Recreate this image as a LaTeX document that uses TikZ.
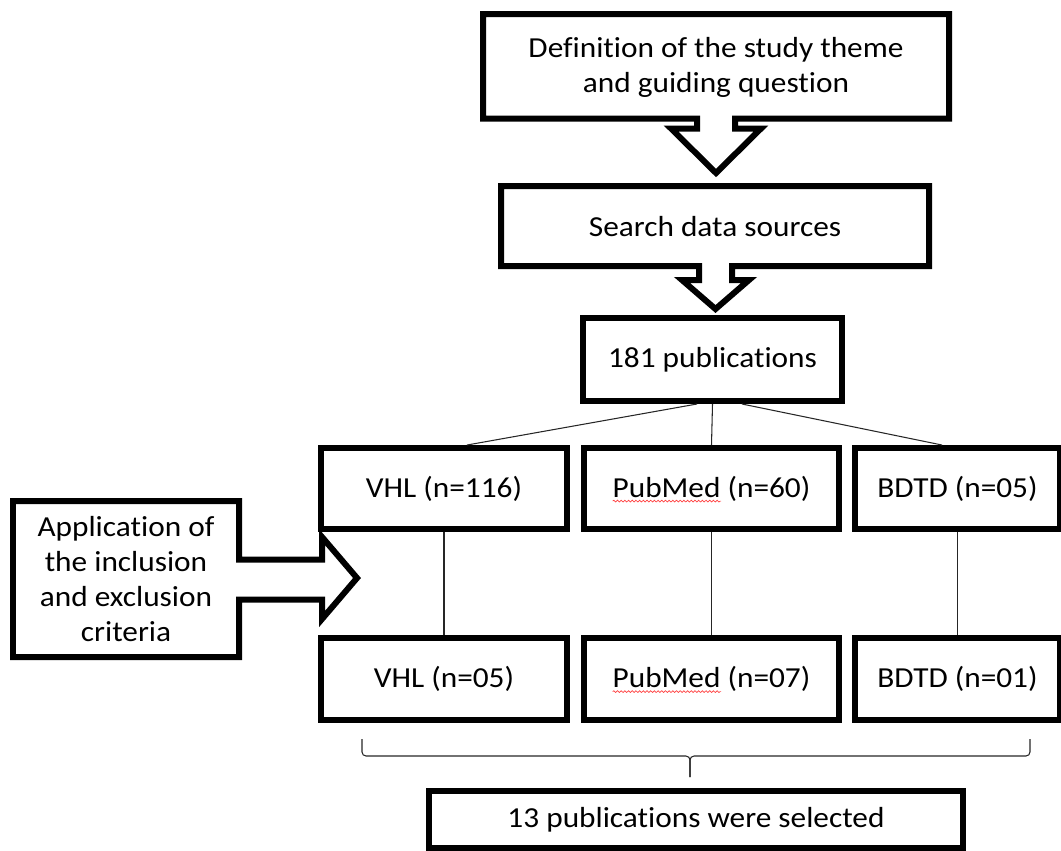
\documentclass[tikz,border=0pt]{standalone}
\usepackage{fontspec}
\setmainfont{Carlito}[FakeStretch=1.08, Ligatures=NoCommon]
\usetikzlibrary{calc,decorations.pathmorphing}
\newcommand{\boxfont}{\fontsize{16.5pt}{19.9pt}\selectfont}

\begin{document}
\begin{tikzpicture}[
  x=0.02cm, y=-0.02cm,
  boldline/.style={draw=black, line width=0.12cm, line join=miter},
  srcbox/.style={boldline, rectangle, inner sep=0pt, align=center, font=\boxfont},
  plaintext/.style={inner sep=0pt, align=center, font=\boxfont},
  link/.style={draw=black!85, line width=0.6pt},
  spellwave/.style={draw=red!75, line width=0.4pt, decorate,
    decoration={snake, segment length=2.1pt, amplitude=0.5pt}}
]
  \useasboundingbox (0,0) rectangle (1061,850);

  % Llamadas con flecha (tema, busqueda, criterios)
  \draw[boldline] (483,14) -- (949,14) -- (949,118.5) -- (735,118.5) -- (735,128.5)
    -- (761,128.5) -- (716,173) -- (671,128.5) -- (697,128.5) -- (697,118.5) -- (483,118.5) -- cycle;
  \node[plaintext] (theme) at (716,67) {Definition of the study theme\\and guiding question};

  \draw[boldline] (501,186) -- (929,186) -- (929,266) -- (732,266) -- (732,280)
    -- (749,280) -- (715.5,309) -- (682,280) -- (699,280) -- (699,266) -- (501,266) -- cycle;
  \node[plaintext] (search) at (715,227) {Search data sources};

  \draw[boldline] (13,501) -- (239,501) -- (239,559.5) -- (322,559.5) -- (322,537)
    -- (357,578) -- (322,619) -- (322,599.5) -- (239,599.5) -- (239,657) -- (13,657) -- cycle;
  \node[plaintext] (criteria) at (126,579) {Application of\\the inclusion\\and exclusion\\criteria};

  % Cajas de resultados
  \node[srcbox, minimum width=5.18cm, minimum height=1.66cm] (pubs) at (712.5,359.5) {181 publications};

  \node[srcbox, minimum width=4.92cm, minimum height=1.62cm] (vhl1) at (444,488.5) {VHL (n=116)};
  \node[srcbox, minimum width=5.10cm, minimum height=1.62cm] (pub1) at (711.5,488.5) {PubMed (n=60)};
  \node[srcbox, minimum width=4.10cm, minimum height=1.62cm] (bdtd1) at (957.5,488.5) {BDTD (n=05)};

  \node[srcbox, minimum width=4.92cm, minimum height=1.64cm] (vhl2) at (444,679) {VHL (n=05)};
  \node[srcbox, minimum width=5.10cm, minimum height=1.64cm] (pub2) at (711.5,679) {PubMed (n=07)};
  \node[srcbox, minimum width=4.10cm, minimum height=1.64cm] (bdtd2) at (957.5,679) {BDTD (n=01)};

  \node[srcbox, minimum width=10.68cm, minimum height=1.14cm] (total) at (696,819.5) {13 publications were selected};

  % Lineas finas entre cajas
  \draw[link] ($(pubs.south)+(-15.5,0)$) -- ($(vhl1.north)+(23,0)$);
  \draw[link] (pubs.south) -- (pub1.north);
  \draw[link] ($(pubs.south)+(29.5,0)$) -- ($(bdtd1.north)+(-15.5,0)$);
  \foreach \src in {vhl,pub,bdtd}
    \draw[link] (\src1.south) -- (\src2.north);

  % Llave que agrupa los resultados finales
  \coordinate (braceL) at (362,739);
  \coordinate (braceR) at (1030,739);
  \coordinate (braceM) at (690,777);
  \draw[link, rounded corners=0.08cm] (braceL) -- (362,756) -- (690,756) -- (braceM);
  \draw[link, rounded corners=0.08cm] (braceR) -- (1030,756) -- (690,756) -- (braceM);

  % Subrayado ondulado bajo "PubMed"
  \foreach \src in {pub1,pub2} {
    \node[plaintext, anchor=base west] (\src-w) at (\src.text) {\phantom{PubMed}};
    \draw[spellwave] ($(\src-w.base west)+(0,4)$) -- ($(\src-w.base east)+(0,4)$);
  }

\end{tikzpicture}
\end{document}
